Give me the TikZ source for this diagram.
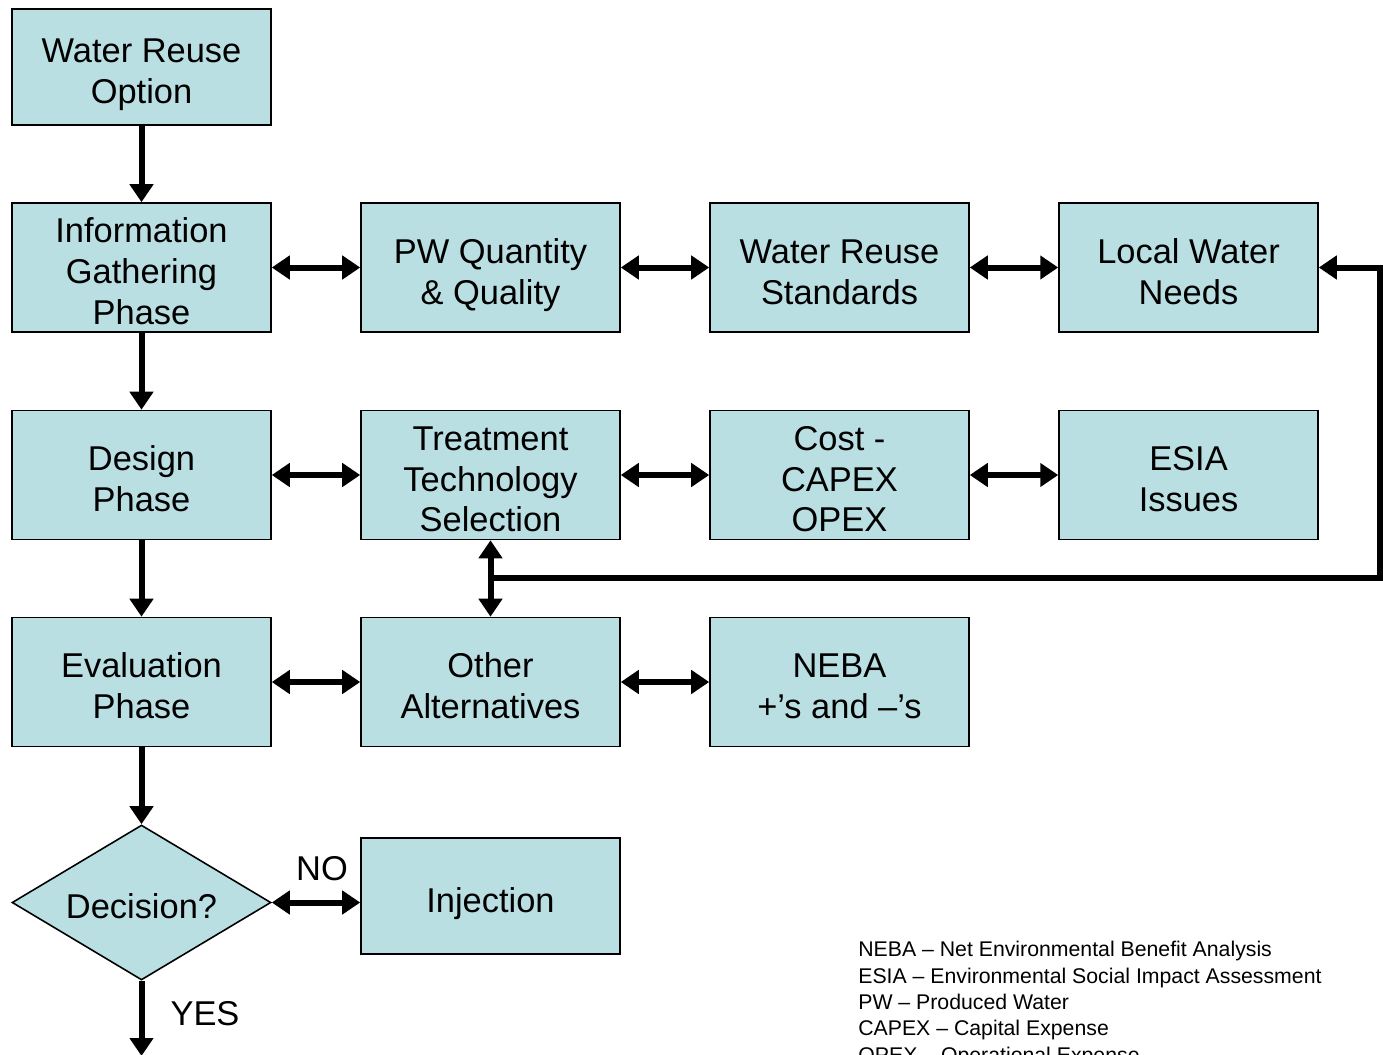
\documentclass[tikz,border=0pt]{standalone}
\usepackage{fontspec}
\setmainfont{Liberation Sans}
\usetikzlibrary{arrows.meta,shapes.geometric}

\definecolor{boxfill}{RGB}{185,223,227}

\newcommand{\boxlines}[1]{\raisebox{-0.16cm}[\height][\depth]{\begin{tabular}{@{}c@{}}#1\end{tabular}}}

\tikzset{
  box/.style={draw=black, line width=0.9pt, fill=boxfill, minimum width=5.18cm,
    minimum height=2.58cm, align=center, inner sep=0pt,
    font=\fontsize{19.6}{23.2}\selectfont},
  decision/.style={box, diamond, minimum height=3.1cm, aspect=1.67},
  link/.style={line width=0.12cm, -{Triangle[length=0.36cm,width=0.46cm]}},
  twoway/.style={link, {Triangle[length=0.36cm,width=0.46cm]}-{Triangle[length=0.36cm,width=0.46cm]}},
  tag/.style={font=\fontsize{19.6}{23.2}\selectfont}
}

\begin{document}
\begin{tikzpicture}[x=0.02cm, y=-0.02cm]
        \clip (0, 0) rectangle (1383, 1055);
        \useasboundingbox (0, 0) rectangle (1383, 1055);

        \node[box, minimum height=2.32cm] (wro) at (141.5, 67) {\boxlines{Water Reuse\\Option}};

        \node[box] (info) at (141.5, 267.5) {\boxlines{Information\\Gathering\\Phase}};
        \node[box] (pwq) at (490.5, 267.5) {\boxlines{PW Quantity\\\& Quality}};
        \node[box] (wrs) at (839.5, 267.5) {\boxlines{Water Reuse\\Standards}};
        \node[box] (lwn) at (1188.5, 267.5) {\boxlines{Local Water\\Needs}};

        \node[box] (design) at (141.5, 475) {\boxlines{Design\\Phase}};
        \node[box] (tts) at (490.5, 475) {\boxlines{Treatment\\Technology\\Selection}};
        \node[box] (cost) at (839.5, 475) {\boxlines{Cost -\\CAPEX\\OPEX}};
        \node[box] (esia) at (1188.5, 475) {\boxlines{ESIA\\Issues}};

        \node[box] (eval) at (141.5, 682) {\boxlines{Evaluation\\Phase}};
        \node[box] (other) at (490.5, 682) {\boxlines{Other\\Alternatives}};
        \node[box] (neba) at (839.5, 682) {\boxlines{NEBA\\+’s and –’s}};

        \node[decision] (dec) at (141.5, 902.5) {\boxlines{Decision?}};
        \node[box, minimum height=2.32cm] (inj) at (490.5, 896) {\boxlines{Injection}};

        \node[tag] (no) at (322, 869) {NO};
        \node[tag] (yes) at (205, 1014) {YES};

        \node[anchor=north west, align=left, inner sep=0pt,
          font=\fontsize{12.1}{15}\selectfont] (legend) at (858, 941)
          {NEBA – Net Environmental Benefit Analysis\\
           ESIA – Environmental Social Impact Assessment\\
           PW – Produced Water\\
           CAPEX – Capital Expense\\
           OPEX – Operational Expense};

        \coordinate (out) at (141.5, 1056);
        \coordinate (junc) at (490.5, 578);
        \coordinate (corner) at (1380, 578);

        \draw[link] (wro) -- (info);
        \draw[link] (info) -- (design);
        \draw[link] (design) -- (eval);
        \draw[link] (eval) -- (dec);
        \draw[link] (dec) -- (out);

        \draw[twoway] (info) -- (pwq);
        \draw[twoway] (pwq) -- (wrs);
        \draw[twoway] (wrs) -- (lwn);

        \draw[twoway] (design) -- (tts);
        \draw[twoway] (tts) -- (cost);
        \draw[twoway] (cost) -- (esia);

        \draw[twoway] (eval) -- (other);
        \draw[twoway] (other) -- (neba);

        \draw[twoway] (dec.east) -- (dec.east -| inj.west);

        \draw[twoway] (tts) -- (other);
        \draw[link, line join=miter] (junc) -- (corner) |- (lwn.east);
    \end{tikzpicture}
\end{document}
